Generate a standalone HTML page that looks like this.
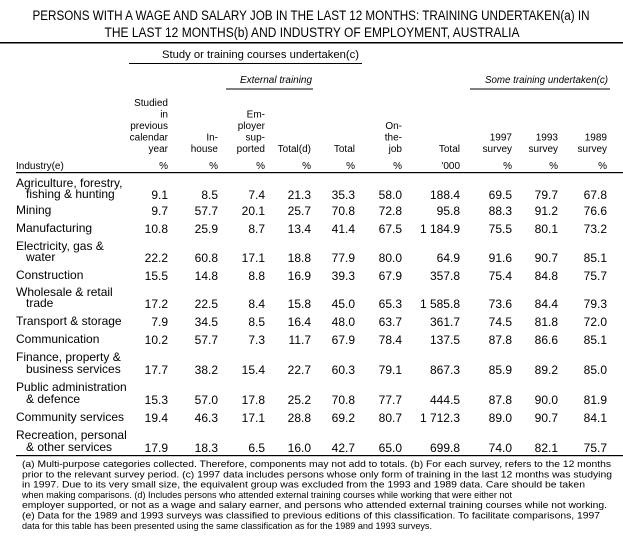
<!DOCTYPE html>
<html><head><meta charset="utf-8"><style>
html,body{margin:0;padding:0;background:#fff;}
svg{display:block;font-family:"Liberation Sans",sans-serif;fill:#000;}
.h{font-size:10px;}
.v{font-size:12px;}
.l{font-size:12px;}
.f{font-size:9.5px;}
</style></head><body>
<svg width="623" height="536" viewBox="0 0 623 536" xmlns="http://www.w3.org/2000/svg">
<text x="311" y="20" font-size="13.5" text-anchor="middle" textLength="557" lengthAdjust="spacingAndGlyphs">PERSONS WITH A WAGE AND SALARY JOB IN THE LAST 12 MONTHS: TRAINING UNDERTAKEN(a) IN</text>
<text x="312" y="37" font-size="13.5" text-anchor="middle" textLength="415" lengthAdjust="spacingAndGlyphs">THE LAST 12 MONTHS(b) AND INDUSTRY OF EMPLOYMENT, AUSTRALIA</text>
<rect x="0" y="42" width="623" height="1.5"/>
<text x="162" y="58" font-size="11" textLength="197" lengthAdjust="spacingAndGlyphs">Study or training courses undertaken(c)</text>
<rect x="129" y="63" width="233" height="1"/>
<text x="240" y="83" font-size="10" font-style="italic" textLength="72" lengthAdjust="spacingAndGlyphs">External training</text>
<rect x="226" y="88.5" width="87" height="1"/>
<text x="485" y="83" font-size="10" font-style="italic" textLength="123" lengthAdjust="spacingAndGlyphs">Some training undertaken(c)</text>
<rect x="470" y="88.5" width="140" height="1"/>
<g class="h" text-anchor="end">
<text x="168" y="106">Studied</text><text x="168" y="117.5">in</text><text x="168" y="129">previous</text><text x="168" y="140.5">calendar</text><text x="168" y="152">year</text>
<text x="218" y="140.5">In-</text><text x="218" y="152">house</text>
<text x="265" y="117.5">Em-</text><text x="265" y="129">ployer</text><text x="265" y="140.5">sup-</text><text x="265" y="152">ported</text>
<text x="311" y="152">Total(d)</text>
<text x="355" y="152">Total</text>
<text x="402" y="129">On-</text><text x="402" y="140.5">the-</text><text x="402" y="152">job</text>
<text x="460" y="152">Total</text>
<text x="512" y="140.5">1997</text><text x="512" y="152">survey</text>
<text x="558" y="140.5">1993</text><text x="558" y="152">survey</text>
<text x="607" y="140.5">1989</text><text x="607" y="152">survey</text>
<text x="168" y="169">%</text><text x="218" y="169">%</text><text x="265" y="169">%</text><text x="311" y="169">%</text><text x="355" y="169">%</text><text x="402" y="169">%</text><text x="460" y="169">'000</text><text x="512" y="169">%</text><text x="558" y="169">%</text><text x="607" y="169">%</text>
</g>
<text class="h" x="16" y="169">Industry(e)</text>
<rect x="16" y="172" width="607" height="1.2"/>

<g class="l">
<text x="16" y="187">Agriculture, forestry,</text><text x="26" y="198">fishing &amp; hunting</text>
<text x="16" y="214">Mining</text>
<text x="16" y="232">Manufacturing</text>
<text x="16" y="250">Electricity, gas &amp;</text><text x="26" y="261">water</text>
<text x="16" y="279">Construction</text>
<text x="16" y="296">Wholesale &amp; retail</text><text x="26" y="307">trade</text>
<text x="16" y="325">Transport &amp; storage</text>
<text x="16" y="343">Communication</text>
<text x="16" y="361">Finance, property &amp;</text><text x="26" y="373">business services</text>
<text x="16" y="391">Public administration</text><text x="26" y="403">&amp; defence</text>
<text x="16" y="421">Community services</text>
<text x="16" y="439">Recreation, personal</text><text x="26" y="451">&amp; other services</text>
</g>

<g class="v" text-anchor="end">
<g transform="translate(0,199)"><text x="168">9.1</text><text x="218">8.5</text><text x="265">7.4</text><text x="311">21.3</text><text x="355">35.3</text><text x="402">58.0</text><text x="460">188.4</text><text x="512">69.5</text><text x="558">79.7</text><text x="607">67.8</text></g>
<g transform="translate(0,215)"><text x="168">9.7</text><text x="218">57.7</text><text x="265">20.1</text><text x="311">25.7</text><text x="355">70.8</text><text x="402">72.8</text><text x="460">95.8</text><text x="512">88.3</text><text x="558">91.2</text><text x="607">76.6</text></g>
<g transform="translate(0,233)"><text x="168">10.8</text><text x="218">25.9</text><text x="265">8.7</text><text x="311">13.4</text><text x="355">41.4</text><text x="402">67.5</text><text x="460">1 184.9</text><text x="512">75.5</text><text x="558">80.1</text><text x="607">73.2</text></g>
<g transform="translate(0,262)"><text x="168">22.2</text><text x="218">60.8</text><text x="265">17.1</text><text x="311">18.8</text><text x="355">77.9</text><text x="402">80.0</text><text x="460">64.9</text><text x="512">91.6</text><text x="558">90.7</text><text x="607">85.1</text></g>
<g transform="translate(0,280)"><text x="168">15.5</text><text x="218">14.8</text><text x="265">8.8</text><text x="311">16.9</text><text x="355">39.3</text><text x="402">67.9</text><text x="460">357.8</text><text x="512">75.4</text><text x="558">84.8</text><text x="607">75.7</text></g>
<g transform="translate(0,308)"><text x="168">17.2</text><text x="218">22.5</text><text x="265">8.4</text><text x="311">15.8</text><text x="355">45.0</text><text x="402">65.3</text><text x="460">1 585.8</text><text x="512">73.6</text><text x="558">84.4</text><text x="607">79.3</text></g>
<g transform="translate(0,326)"><text x="168">7.9</text><text x="218">34.5</text><text x="265">8.5</text><text x="311">16.4</text><text x="355">48.0</text><text x="402">63.7</text><text x="460">361.7</text><text x="512">74.5</text><text x="558">81.8</text><text x="607">72.0</text></g>
<g transform="translate(0,344)"><text x="168">10.2</text><text x="218">57.7</text><text x="265">7.3</text><text x="311">11.7</text><text x="355">67.9</text><text x="402">78.4</text><text x="460">137.5</text><text x="512">87.8</text><text x="558">86.6</text><text x="607">85.1</text></g>
<g transform="translate(0,374)"><text x="168">17.7</text><text x="218">38.2</text><text x="265">15.4</text><text x="311">22.7</text><text x="355">60.3</text><text x="402">79.1</text><text x="460">867.3</text><text x="512">85.9</text><text x="558">89.2</text><text x="607">85.0</text></g>
<g transform="translate(0,404)"><text x="168">15.3</text><text x="218">57.0</text><text x="265">17.8</text><text x="311">25.2</text><text x="355">70.8</text><text x="402">77.7</text><text x="460">444.5</text><text x="512">87.8</text><text x="558">90.0</text><text x="607">81.9</text></g>
<g transform="translate(0,422)"><text x="168">19.4</text><text x="218">46.3</text><text x="265">17.1</text><text x="311">28.8</text><text x="355">69.2</text><text x="402">80.7</text><text x="460">1 712.3</text><text x="512">89.0</text><text x="558">90.7</text><text x="607">84.1</text></g>
<g transform="translate(0,452)"><text x="168">17.9</text><text x="218">18.3</text><text x="265">6.5</text><text x="311">16.0</text><text x="355">42.7</text><text x="402">65.0</text><text x="460">699.8</text><text x="512">74.0</text><text x="558">82.1</text><text x="607">75.7</text></g>
</g>
<rect x="16" y="455" width="607" height="1.2"/>

<g class="f">
<text x="22" y="467" textLength="589" lengthAdjust="spacingAndGlyphs">(a) Multi-purpose categories collected. Therefore, components may not add to totals. (b) For each survey, refers to the 12 months</text>
<text x="22" y="477.3" textLength="590" lengthAdjust="spacingAndGlyphs">prior to the relevant survey period. (c) 1997 data includes persons whose only form of training in the last 12 months was studying</text>
<text x="22" y="487.6" textLength="563" lengthAdjust="spacingAndGlyphs">in 1997. Due to its very small size, the equivalent group was excluded from the 1993 and 1989 data. Care should  be taken</text>
<text x="22" y="497.9" textLength="490" lengthAdjust="spacingAndGlyphs">when making comparisons. (d) Includes persons who attended external training courses while working that were either not</text>
<text x="22" y="508.2" textLength="585" lengthAdjust="spacingAndGlyphs">employer supported, or not as a wage and salary earner, and persons who attended external training courses while not working.</text>
<text x="22" y="518.5" textLength="578" lengthAdjust="spacingAndGlyphs">(e) Data for the 1989 and 1993 surveys was classified to previous editions of this classification. To facilitate comparisons, 1997</text>
<text x="22" y="528.8" textLength="410" lengthAdjust="spacingAndGlyphs">data for this table has been presented using the same classification as for the 1989 and 1993 surveys.</text>
</g>
</svg>
</body></html>
